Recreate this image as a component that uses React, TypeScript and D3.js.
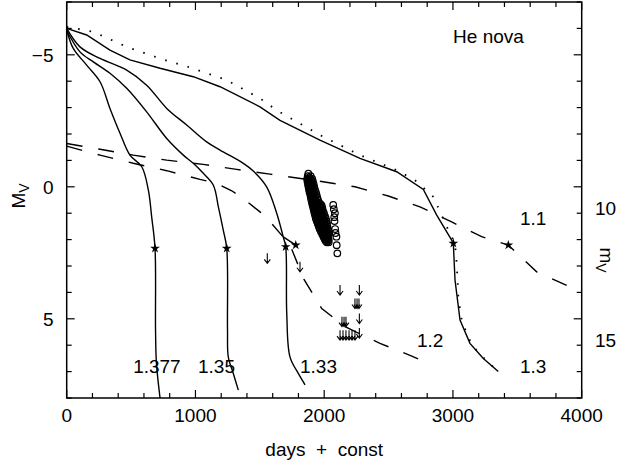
import React from "react";
import * as d3 from "d3";

type P = [number, number];

const xTicksMajor = [0, 1000, 2000, 3000, 4000];
const yTicksMajor = [-5, 0, 5];
const rightTickLabels = [10, 15];
const mOffset = 9.2;

const curve1377: P[] = [[0,-5.95],[51,-5.24],[155,-4.61],[259,-3.98],[336,-2.97],[414,-2.03],[491,-1.2],[583,-0.76],[634,0.12],[660,1.14],[686,2.33],[690,5.43],[697,6.68],[725,8.0]];
const curve135: P[] = [[0,-5.93],[103,-5.11],[207,-4.73],[336,-4.3],[466,-3.73],[621,-2.84],[777,-1.83],[906,-1.2],[983,-0.89],[1061,-0.51],[1139,-0.06],[1178,0.76],[1216,1.64],[1243,2.33],[1249,5.43],[1255,6.44],[1294,7.07],[1333,7.7]];
const curve133: P[] = [[0,-6.0],[103,-5.3],[259,-4.86],[466,-4.42],[621,-3.85],[777,-2.97],[932,-2.34],[1087,-1.7],[1191,-1.39],[1372,-0.89],[1449,-0.6],[1553,0],[1631,1.0],[1682,1.9],[1701,2.27],[1709,4.78],[1734,6.44],[1799,7.07],[1851,7.5]];
const branch133: P[] = [[1682,1.9],[1779,2.21]];
const curve13: P[] = [[0,-6.0],[155,-5.75],[336,-5.18],[491,-4.81],[725,-4.49],[983,-4.17],[1191,-3.79],[1501,-3.03],[1657,-2.52],[1967,-1.77],[2278,-1.08],[2563,-0.57],[2770,0.1],[2874,1.07],[2990,2.02],[3003,2.14],[3016,3.53],[3055,5.05],[3132,5.93],[3236,6.5],[3352,7.0]];
const curveDotted: P[] = [[0,-6.06],[207,-5.87],[466,-5.3],[725,-4.86],[983,-4.48],[1243,-4.04],[1501,-3.35],[1631,-2.9],[1967,-1.96],[2278,-1.2],[2563,-0.63],[2705,-0.25],[2848,0.38],[2964,1.64],[3016,2.14],[3029,2.89],[3042,4.17],[3070,5.12],[3148,6.0],[3249,6.53],[3366,7.07]];
const dashed11: P[] = [[0,-1.64],[259,-1.42],[517,-1.2],[777,-1.01],[1061,-0.85],[1320,-0.66],[1579,-0.48],[1942,-0.23],[2239,0],[2498,0.35],[2744,0.76],[2990,1.33],[3223,1.89],[3430,2.21],[3650,3.22],[3912,3.8],[4000,3.99]];
const dashed12: P[] = [[0,-1.54],[259,-1.2],[517,-0.89],[777,-0.61],[1035,-0.28],[1165,-0.13],[1282,0.15],[1385,0.5],[1501,0.95],[1592,1.39],[1734,2.2],[1843,3.51],[1981,4.61],[2162,5.3],[2433,5.93],[2680,6.41],[2827,6.72]];
const stars: P[] = [[686,2.33],[1243,2.33],[1701,2.27],[1779,2.21],[3003,2.14],[3430,2.21]];

const observed: P[] = [
  [1877,-0.5],
  [1872,-0.4],[1895,-0.4],
  [1880,-0.35],
  [1868,-0.3],[1890,-0.3],[1907,-0.3],
  [1879,-0.25],[1900,-0.25],
  [1870,-0.2],[1892,-0.2],[1912,-0.2],
  [1881,-0.15],[1904,-0.15],
  [1874,-0.1],[1896,-0.1],[1918,-0.1],
  [1885,-0.05],[1908,-0.05],
  [1878,0.0],[1900,0.0],[1922,0.0],
  [1889,0.05],[1912,0.05],
  [1882,0.1],[1905,0.1],[1928,0.1],
  [1894,0.15],[1917,0.15],
  [1886,0.2],[1910,0.2],[1935,0.2],
  [1898,0.25],[1922,0.25],
  [1892,0.3],[1915,0.3],[1940,0.3],
  [1903,0.35],[1928,0.35],
  [1896,0.4],[1920,0.4],[1946,0.4],
  [1908,0.45],[1933,0.45],
  [1900,0.5],[1925,0.5],[1952,0.5],
  [1912,0.55],[1938,0.55],
  [1905,0.6],[1930,0.6],[1958,0.6],
  [1918,0.65],[1944,0.65],[1970,0.65],
  [1910,0.7],[1935,0.7],[1962,0.7],[1980,0.7],
  [1922,0.75],[1950,0.75],[1972,0.75],
  [1915,0.8],[1940,0.8],[1965,0.8],[1985,0.8],
  [1928,0.85],[1955,0.85],[1976,0.85],
  [1920,0.9],[1945,0.9],[1970,0.9],[1990,0.9],
  [1932,0.95],[1960,0.95],[1982,0.95],
  [1925,1.0],[1950,1.0],[1975,1.0],[1998,1.0],
  [1938,1.05],[1962,1.05],[1988,1.05],
  [1930,1.1],[1955,1.1],[1980,1.1],[2005,1.1],
  [1942,1.15],[1968,1.15],[1995,1.15],
  [1935,1.2],[1960,1.2],[1985,1.2],[2012,1.2],
  [1948,1.25],[1972,1.25],[2000,1.25],
  [1942,1.3],[1965,1.3],[1990,1.3],[2018,1.3],
  [1955,1.35],[1978,1.35],[2005,1.35],
  [1950,1.4],[1972,1.4],[1995,1.4],[2022,1.4],
  [1962,1.45],[1985,1.45],[2010,1.45],
  [1958,1.5],[1980,1.5],[2000,1.5],[2025,1.5],
  [1970,1.55],[1990,1.55],[2015,1.55],
  [1965,1.6],[1988,1.6],[2008,1.6],[2030,1.6],
  [1978,1.65],[1998,1.65],[2020,1.65],
  [1975,1.7],[1995,1.7],[2015,1.7],[2035,1.7],
  [1985,1.75],[2005,1.75],[2025,1.75],
  [1985,1.8],[2005,1.8],[2022,1.8],[2037,1.8],
  [1995,1.85],[2012,1.85],[2030,1.85],
  [1995,1.9],[2012,1.9],[2030,1.9],
  [2005,1.95],[2022,1.95],
  [2005,2.0],[2020,2.0],[2035,2.0],
  [2012,2.05],[2028,2.05],
  [2020,2.1],[2035,2.1],
  [2070,0.69],[2075,0.85],[2083,1.0],[2078,1.15],[2080,1.3],[2085,1.6],[2088,1.75],[2095,1.89],[2097,2.21],[2102,2.52]
];

const upperLimits: P[] = [[1558,2.52],[1812,2.84],[2123,3.72],[2273,3.72],[2239,4.23],[2255,4.23],[2270,4.23],[2138,4.92],[2154,4.92],[2169,4.92],[2273,4.8],[2123,5.43],[2146,5.43],[2169,5.43],[2193,5.43],[2216,5.43],[2239,5.43],[2273,5.35]];

const curveLabels: { t: string; d: number; m: number }[] = [
  { t: "1.377", d: 516, m: 7.05 },
  { t: "1.35", d: 1020, m: 7.05 },
  { t: "1.33", d: 1812, m: 7.05 },
  { t: "1.2", d: 2721, m: 6.07 },
  { t: "1.3", d: 3520, m: 7.05 },
  { t: "1.1", d: 3520, m: 1.45 },
];

const W = 629, H = 467;
const x = d3.scaleLinear().domain([0, 4000]).range([66.7, 581.7]);
const y = d3.scaleLinear().domain([-7, 8]).range([2, 398]);

const FONT = "'Liberation Sans', Arial, sans-serif";
const FS = 19;

export default function App() {
  const smooth = d3.line<P>().x(d => x(d[0])).y(d => y(d[1])).curve(d3.curveCatmullRom.alpha(0.5));
  const lin = d3.line<P>().x(d => x(d[0])).y(d => y(d[1]));
  const starPath = d3.symbol().type(d3.symbolStar).size(30)() || "";
  const xMinor = d3.range(0, 4001, 200);
  const yMinor = d3.range(-7, 8.01, 1);
  const [x0, x1] = x.range();
  const [y0, y1] = y.range();

  return (
    <svg width={W} height={H} style={{ position: "absolute", left: 0, top: 0, background: "#fff" }} fontFamily={FONT}>
      <defs>
        <clipPath id="plot"><rect x={x0} y={y0} width={x1 - x0} height={y1 - y0} /></clipPath>
      </defs>
      <rect width={W} height={H} fill="#fff" />
      <g clipPath="url(#plot)" fill="none" stroke="#000">
        <path d={smooth(curve1377) || ""} strokeWidth={1.4} />
        <path d={smooth(curve135) || ""} strokeWidth={1.4} />
        <path d={smooth(curve133) || ""} strokeWidth={1.4} />
        <path d={lin(branch133) || ""} strokeWidth={1.4} />
        <path d={lin(curve13) || ""} strokeWidth={1.4} />
        <path d={lin(curveDotted) || ""} strokeWidth={1.8} strokeDasharray="1.6,10" />
        <path d={lin(dashed11) || ""} strokeWidth={1.4} strokeDasharray="16,16" />
        <path d={lin(dashed12) || ""} strokeWidth={1.4} strokeDasharray="16,16" />
        {observed.map((p, i) => (
          <circle key={"o" + i} cx={x(p[0])} cy={y(p[1])} r={3.3} strokeWidth={1.2} />
        ))}
        {upperLimits.map((p, i) => {
          const px = x(p[0]), py = y(p[1]);
          return (
            <path key={"u" + i} d={`M${px},${py}V${py + 10}M${px - 3},${py + 6}L${px},${py + 10}L${px + 3},${py + 6}`} strokeWidth={1.1} />
          );
        })}
        {stars.map((p, i) => (
          <path key={"s" + i} d={starPath} transform={`translate(${x(p[0])},${y(p[1])})`} fill="#000" stroke="none" />
        ))}
      </g>
      <rect x={x0} y={y0} width={x1 - x0} height={y1 - y0} fill="none" stroke="#000" strokeWidth={1.5} />
      <g stroke="#000" strokeWidth={1.2}>
        {xMinor.map(v => {
          const len = v % 1000 === 0 ? 8 : 5;
          return (
            <g key={"xt" + v}>
              <line x1={x(v)} x2={x(v)} y1={y1} y2={y1 - len} />
              <line x1={x(v)} x2={x(v)} y1={y0} y2={y0 + len} />
            </g>
          );
        })}
        {yMinor.map(v => {
          const len = v % 5 === 0 ? 8 : 5;
          return (
            <g key={"yt" + v}>
              <line x1={x0} x2={x0 + len} y1={y(v)} y2={y(v)} />
              <line x1={x1} x2={x1 - len} y1={y(v)} y2={y(v)} />
            </g>
          );
        })}
      </g>
      <g fontSize={FS} fill="#000">
        {xTicksMajor.map(v => (
          <text key={"xl" + v} x={x(v)} y={421.5} textAnchor="middle">{v}</text>
        ))}
        {yTicksMajor.map(v => (
          <text key={"yl" + v} x={53.5} y={y(v)} dy="0.36em" textAnchor="end">{v < 0 ? "\u2212" + Math.abs(v) : String(v)}</text>
        ))}
        {rightTickLabels.map(v => (
          <text key={"rl" + v} x={595} y={y(v - mOffset)} dy="0.36em" textAnchor="start">{v}</text>
        ))}
        {curveLabels.map(l => (
          <text key={l.t} x={x(l.d)} y={y(l.m)}>{l.t}</text>
        ))}
        <text x={x(3001)} y={y(-5.45)} style={{ whiteSpace: "pre" }}>He nova</text>
        <text x={(x0 + x1) / 2} y={456} textAnchor="middle" style={{ whiteSpace: "pre" }}>days  +  const</text>
        <text transform="translate(25,196) rotate(-90)" textAnchor="middle">M<tspan fontSize={14} dy={4}>V</tspan></text>
        <text transform="translate(600,260) rotate(90)" textAnchor="middle">m<tspan fontSize={14} dy={4}>V</tspan></text>
      </g>
    </svg>
  );
}
